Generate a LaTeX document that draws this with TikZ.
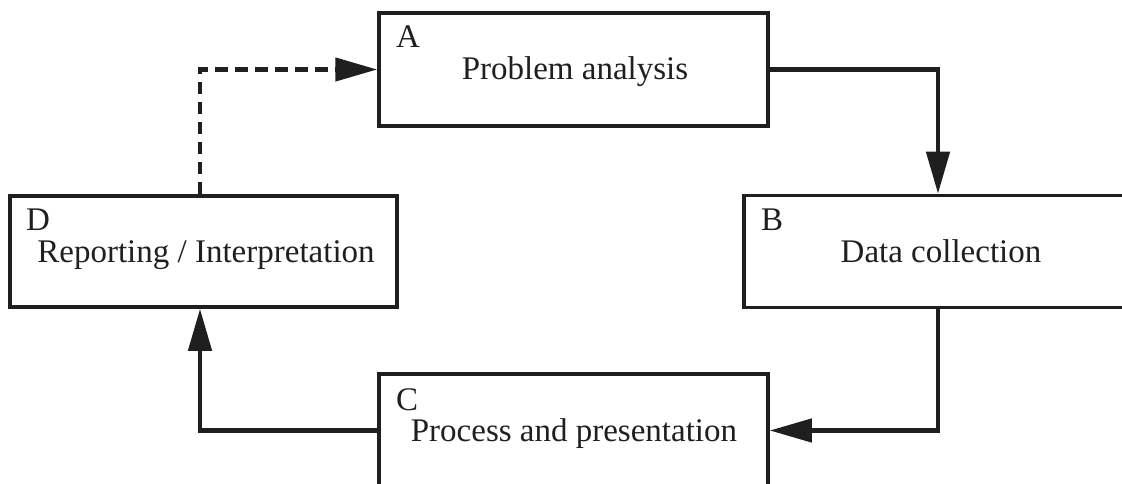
\documentclass[tikz,border=0pt]{standalone}
\usepackage{fontspec}
\setmainfont{Liberation Serif}
\usetikzlibrary{arrows.meta}
\begin{document}
\begin{tikzpicture}[x=1pt,y=-1pt,
  box/.style={draw=black!88, line width=3.5pt, rectangle, inner sep=0pt},
  txt/.style={font=\fontsize{33}{38}\selectfont, text=black!88, inner sep=0pt},
  conn/.style={draw=black!88, line width=4.5pt, line join=miter,
    -{Triangle[length=42pt,width=23pt]}},
  dconn/.style={conn, dash pattern=on 12.5pt off 7.5pt}]
\useasboundingbox (0,0) rectangle (1122,484);
% boxes
\node[box, minimum width=389pt, minimum height=113pt] (A) at (573.5,69.5) {};
\node[box, minimum width=388pt, minimum height=112pt] (B) at (938,251.5) {};
\node[box, minimum width=389pt, minimum height=113pt] (C) at (573.5,430.5) {};
\node[box, minimum width=387pt, minimum height=111pt] (D) at (203.5,251.5) {};
% labels
\node[txt, anchor=base west] (Al) at (396,48) {A};
\node[txt, anchor=base] (At) at (575,80) {Problem analysis};
\node[txt, anchor=base west] (Bl) at (761,230) {B};
\node[txt, anchor=base] (Bt) at (941,262) {Data collection};
\node[txt, anchor=base west] (Cl) at (396,410) {C};
\node[txt, anchor=base] (Ct) at (574,441) {Process and presentation};
\node[txt, anchor=base west] (Dl) at (26,230) {D};
\node[txt, anchor=base] (Dt) at (206,262) {Reporting / Interpretation};
% connectors
\coordinate (Dtop) at ([xshift=-3.5pt]D.north);
\coordinate (Dbot) at ([xshift=-3.5pt]D.south);
\draw[conn] (A.east) -| (B.north);
\draw[conn] (B.south) |- (C.east);
\draw[conn] (C.west) -| (Dbot);
\draw[dconn] (Dtop) |- (A.west);
\end{tikzpicture}
\end{document}
